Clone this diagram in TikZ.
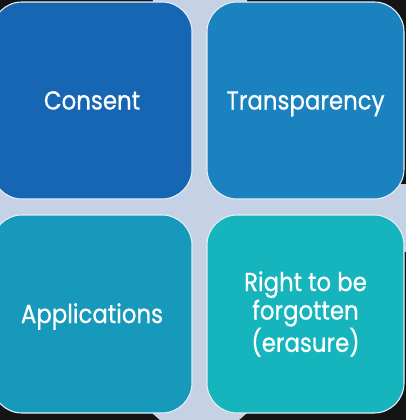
\documentclass[tikz,border=0pt]{standalone}
\usepackage{fontspec}
\setmainfont{Poppins}[FakeStretch=0.88,FakeBold=0.6]
\definecolor{cA}{HTML}{1666B4}
\definecolor{cB}{HTML}{1A82BE}
\definecolor{cC}{HTML}{1699BA}
\definecolor{cD}{HTML}{16B4BC}
\definecolor{bgl}{HTML}{C5D1E4}
\definecolor{edge}{HTML}{E6EEF5}
\begin{document}
\begin{tikzpicture}[x=1pt,y=-1pt,
  tile/.style={rectangle, rounded corners=30pt, draw=edge, line width=1.1pt,
    text=white, font=\fontsize{26}{28.5}\selectfont, align=center, inner sep=0pt},
  oneline/.style={text height=18pt, text depth=0pt}]
\useasboundingbox (0,0) rectangle (406,420);
\fill[black!92] (0,0) rectangle (406,420);
\fill[bgl] (153,-1) -- (247,-1) -- (247,413) -- (238,421) -- (161,421) -- (152,413) -- cycle;
\fill[bgl] (-1,184) rectangle (407,252);
\node[tile, oneline, fill=cA, minimum width=200pt, minimum height=197pt] (consent) at (92,100.5) {Consent};
\node[tile, oneline, fill=cB, minimum width=197pt, minimum height=197pt] (transp) at (305.5,100.5) {Transparency};
\node[tile, oneline, fill=cC, minimum width=200pt, minimum height=198pt] (apps) at (92,314) {Applications};
\node[tile, fill=cD, minimum width=197pt, minimum height=198pt] (right) at (305.5,314) {Right to be\\forgotten\\(erasure)};
\end{tikzpicture}
\end{document}
